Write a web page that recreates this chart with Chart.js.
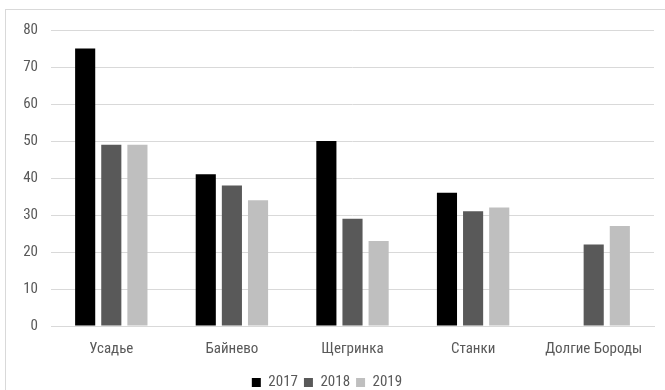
<!DOCTYPE html>
<html>
<head>
<meta charset="utf-8">
<script src="https://cdn.jsdelivr.net/npm/chart.js@4"></script>
<style>
  html, body { margin: 0; padding: 0; background: #fff; overflow: hidden; }
  #wrap { position: relative; width: 665px; height: 390px; }
  #frame { position: absolute; left: 5px; top: 9px; width: 700px; height: 420px;
           border: 1px solid #d9d9d9; box-sizing: border-box; pointer-events: none; }
  canvas { position: absolute; left: 0; top: 0; }
</style>
</head>
<body>
<div id="wrap">
  <div id="frame"></div>
  <canvas id="c" width="665" height="390"></canvas>
</div>
<script>
const villages = ['Усадье', 'Байнево', 'Щегринка', 'Станки', 'Долгие Бороды'];
const years = ['2017', '2018', '2019'];
const values2017 = [75, 41, 50, 36, null];
const values2018 = [49, 38, 29, 31, 22];
const values2019 = [49, 34, 23, 32, 27];
const barColors = ['#000000', '#595959', '#bfbfbf'];

const FONT = "'Liberation Sans Narrow', 'Roboto Condensed', 'Liberation Sans', sans-serif";
const textColor = '#595959';

const series = [values2017, values2018, values2019];

new Chart(document.getElementById('c'), {
  type: 'bar',
  data: {
    labels: villages,
    datasets: years.map((y, i) => ({
      label: y,
      data: series[i],
      backgroundColor: barColors[i],
      borderWidth: 0,
      categoryPercentage: 0.65,
      barPercentage: 0.77
    }))
  },
  options: {
    responsive: false,
    animation: false,
    layout: { padding: { left: 0, right: 11, top: 30, bottom: -10 } },
    plugins: {
      tooltip: { enabled: false },
      legend: {
        position: 'bottom',
        labels: {
          boxWidth: 9, boxHeight: 9, padding: 6,
          color: textColor,
          font: { family: FONT, size: 15 }
        }
      }
    },
    scales: {
      x: {
        grid: { display: false, drawTicks: false },
        border: { color: '#d9d9d9' },
        ticks: { color: textColor, font: { family: FONT, size: 15 }, padding: 14 },
        afterFit: s => { s.height = 43; }
      },
      y: {
        min: 0, max: 80,
        grid: { color: '#d9d9d9', drawTicks: false },
        border: { display: false },
        ticks: { stepSize: 10, color: textColor, font: { family: FONT, size: 15 }, padding: 13 },
        afterFit: s => { s.width = 51; }
      }
    }
  }
});
</script>
</body>
</html>
